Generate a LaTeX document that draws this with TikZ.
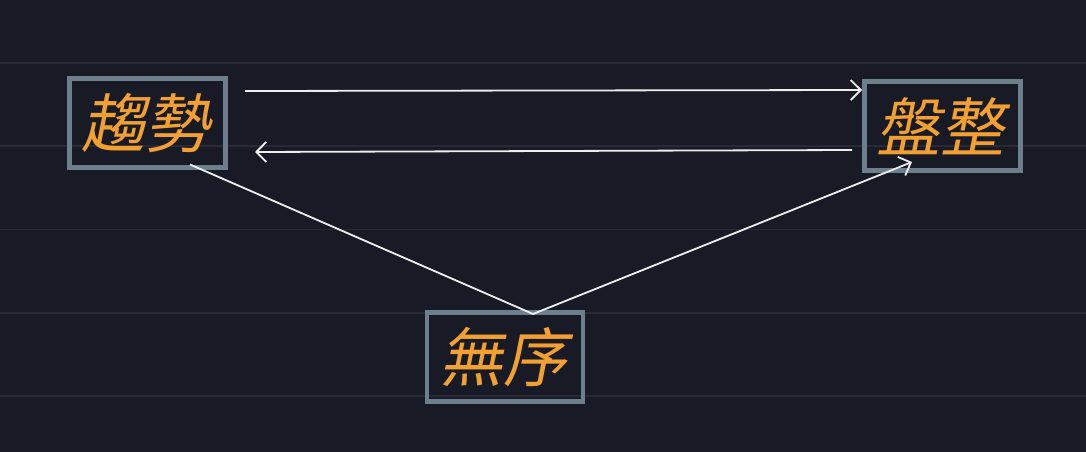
\documentclass[tikz,border=0pt]{standalone}
\usepackage{fontspec}
\newfontfamily\cjk[FakeSlant=0.2]{Noto Sans CJK TC}
\usetikzlibrary{arrows.meta}
\definecolor{bg}{HTML}{181B26}
\definecolor{gridc}{HTML}{282B37}
\definecolor{boxc}{HTML}{6E7F8C}
\definecolor{txt}{HTML}{F3A033}
\definecolor{linec}{HTML}{EEEEEE}
\tikzset{
  statebox/.style={draw=boxc, line width=4.5pt, minimum width=156pt, minimum height=89pt,
    inner sep=0pt, text=txt, font=\cjk\fontsize{64}{64}\selectfont},
  conn/.style={draw=linec, line width=1.8pt},
  arr/.style={conn, -{Straight Barb[length=10pt,width=20pt,line width=1.8pt]}},
  gridline/.style={draw=gridc, line width=1.6pt}
}
\begin{document}
\begin{tikzpicture}[x=1pt,y=-1pt]
\fill[bg] (0,0) rectangle (1086,452);
\useasboundingbox (0,0) rectangle (1086,452);
\foreach \yy in {62.8,146.1,229.4,312.7,396} {
  \draw[gridline] (0,\yy) -- (1086,\yy);
}
\node[statebox] (trend) at (147.5,123) {\hspace*{-4pt}趨勢};
\node[statebox] (range) at (942.3,126) {\hspace*{-4pt}盤整};
\node[statebox] (chaos) at (505,357) {\hspace*{-4pt}無序};
\coordinate (t1) at (245,91);
\coordinate (r1) at (862,90);
\coordinate (r2) at (852,150);
\coordinate (t2) at (255,152);
\coordinate (t3) at (190,164.5);
\coordinate (c1) at (533,314);
\coordinate (r3) at (912,162);
\draw[arr] (t1) -- (r1);
\draw[arr] (r2) -- (t2);
\draw[conn] (t3) -- (c1);
\draw[arr] (c1) -- (r3);
\end{tikzpicture}
\end{document}
